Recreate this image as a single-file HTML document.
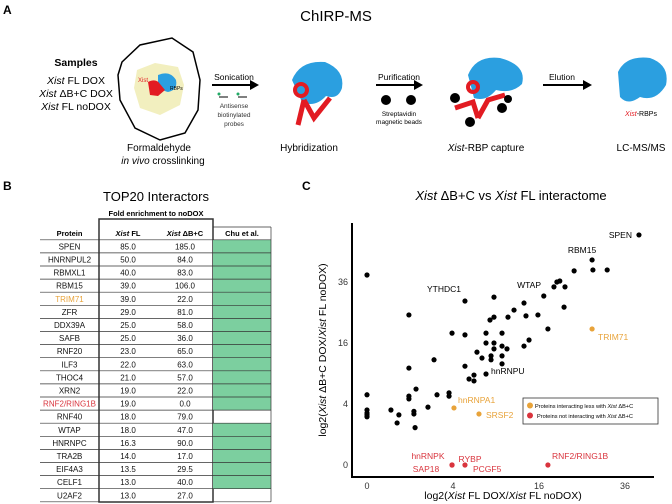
<!DOCTYPE html>
<html><head><meta charset="utf-8"><style>
body{margin:0;background:#fff;}
svg{display:block;font-family:"Liberation Sans",sans-serif;}
</style></head><body>
<svg id="fig" width="672" height="504" viewBox="0 0 672 504">
<g>
<text x="3" y="14" font-size="12" font-weight="bold">A</text>
<text x="336" y="21" font-size="15" text-anchor="middle">ChIRP-MS</text>
<g font-size="10.5" text-anchor="middle">
<text x="76" y="66" font-weight="bold">Samples</text>
<text x="76" y="84"><tspan font-style="italic">Xist</tspan> FL DOX</text>
<text x="76" y="97"><tspan font-style="italic">Xist</tspan> ΔB+C DOX</text>
<text x="76" y="110"><tspan font-style="italic">Xist</tspan> FL noDOX</text>
</g>
<g>
<path d="M122,62 L140,45 L172,38 L193,52 L200,80 L198,110 L185,133 L160,140 L135,128 L120,100 L118,75 Z" fill="#fff" stroke="#000" stroke-width="1.5"/>
<path d="M137,70 L155,63 L178,67 L184,85 L180,105 L160,115 L140,108 L134,88 Z" fill="#f2efbf"/>
<path d="M158,75 Q170,70 176,80 Q178,90 168,92 Q160,90 158,84 Z" fill="#2b9fe0"/>
<path d="M148,82 Q156,78 160,84 L165,90 L158,96 L150,95 Z" fill="#e21b22"/>
<text x="138" y="82" font-size="6" fill="#e21b22">Xist</text>
<text x="170" y="90" font-size="5">RBPs</text>
<text x="159" y="151" font-size="10" text-anchor="middle">Formaldehyde</text>
<text x="163" y="164" font-size="10" text-anchor="middle"><tspan font-style="italic">in vivo</tspan> crosslinking</text>
</g>
<g>
<text x="234" y="80" font-size="8.5" text-anchor="middle">Sonication</text>
<line x1="212" y1="85" x2="252" y2="85" stroke="#000" stroke-width="2"/><path d="M250,80 L259,85 L250,90Z"/>
<text x="234" y="108" font-size="6.5" text-anchor="middle" fill="#333">Antisense</text>
<text x="234" y="117" font-size="6.5" text-anchor="middle" fill="#333">biotinylated</text>
<text x="234" y="126" font-size="6.5" text-anchor="middle" fill="#333">probes</text>
<path d="M219,97 h9 M238,97 h9" stroke="#000"/><circle cx="219" cy="94" r="1.5" fill="#2a6"/><circle cx="238" cy="94" r="1.5" fill="#2a6"/>
</g>
<g>
<path d="M292,80 Q300,60 325,62 Q345,70 342,88 Q338,100 326,96 Q315,108 302,102 Z" fill="#2b9fe0"/>
<path d="M298,125 L304,100 M304,100 L314,118 L330,98" stroke="#e21b22" stroke-width="5" fill="none"/>
<circle cx="301" cy="90" r="6" fill="none" stroke="#e21b22" stroke-width="4"/>
<text x="309" y="151" font-size="10" text-anchor="middle">Hybridization</text>
</g>
<g>
<text x="399" y="80" font-size="8.5" text-anchor="middle">Purification</text>
<line x1="376" y1="85" x2="416" y2="85" stroke="#000" stroke-width="2"/><path d="M414,80 L423,85 L414,90Z"/>
<circle cx="386" cy="100" r="5"/><circle cx="411" cy="100" r="5"/>
<text x="399" y="116" font-size="6.5" text-anchor="middle">Streptavidin</text>
<text x="399" y="124" font-size="6.5" text-anchor="middle">magnetic beads</text>
</g>
<g>
<path d="M468,75 Q476,55 500,58 Q527,65 522,84 Q512,94 496,90 Q486,102 474,98 Z" fill="#2b9fe0"/>
<path d="M455,108 L473,102 L478,118 M478,118 L488,100 L505,95" stroke="#e21b22" stroke-width="5" fill="none"/>
<circle cx="473" cy="87" r="5" fill="none" stroke="#e21b22" stroke-width="4"/>
<circle cx="455" cy="98" r="5"/><circle cx="470" cy="122" r="5"/><circle cx="502" cy="108" r="5"/><circle cx="508" cy="99" r="4"/>
<text x="486" y="151" font-size="10" text-anchor="middle"><tspan font-style="italic">Xist</tspan>-RBP capture</text>
</g>
<g>
<text x="562" y="80" font-size="8.5" text-anchor="middle">Elution</text>
<line x1="543" y1="85" x2="585" y2="85" stroke="#000" stroke-width="2"/><path d="M583,80 L592,85 L583,90Z"/>
<path d="M618,72 Q626,55 650,58 Q670,65 666,85 Q656,102 640,97 Q628,106 620,97 Z" fill="#2b9fe0"/>
<text x="641" y="116" font-size="7" text-anchor="middle"><tspan fill="#e21b22" font-style="italic">Xist</tspan>-RBPs</text>
<text x="641" y="151" font-size="10" text-anchor="middle">LC-MS/MS</text>
</g>
</g>
<g>
<text x="3" y="190" font-size="12" font-weight="bold">B</text>
<text x="156" y="201" font-size="13" text-anchor="middle">TOP20 Interactors</text>
<text x="156" y="216" font-size="7.5" font-weight="bold" text-anchor="middle">Fold enrichment to noDOX</text>
<g id="table"></g>
</g>
<g>
<text x="302" y="190" font-size="12" font-weight="bold">C</text>
<text x="511" y="200" font-size="13" text-anchor="middle"><tspan font-style="italic">Xist</tspan> ΔB+C vs <tspan font-style="italic">Xist</tspan> FL interactome</text>
<g id="scatter"></g>
</g>
</svg>
<script>
const proteins=["SPEN","HNRNPUL2","RBMXL1","RBM15","TRIM71","ZFR","DDX39A","SAFB","RNF20","ILF3","THOC4","XRN2","RNF2/RING1B","RNF40","WTAP","HNRNPC","TRA2B","EIF4A3","CELF1","U2AF2"];
const flValues=["85.0","50.0","40.0","39.0","39.0","29.0","25.0","25.0","23.0","22.0","21.0","19.0","19.0","18.0","18.0","16.3","14.0","13.5","13.0","13.0"];
const dbcValues=["185.0","84.0","83.0","106.0","22.0","81.0","58.0","36.0","65.0","63.0","57.0","22.0","0.0","79.0","47.0","90.0","17.0","29.5","40.0","27.0"];
const chuValues=[1,1,1,1,1,1,1,1,1,1,1,1,1,0,1,1,1,1,1,0];
const nameColors={"TRIM71":"#e8a33a","RNF2/RING1B":"#d9343d"};

const NS="http://www.w3.org/2000/svg";
function mk(tag,attrs,parent){const e=document.createElementNS(NS,tag);for(const k in attrs)e.setAttribute(k,attrs[k]);parent.appendChild(e);return e;}

const tb=document.getElementById('table');
const cols=[40,99,157,213,271];
const top0=227, rh=13.1, head=12.8;
mk('rect',{x:99,y:219,width:114,height:283,fill:'none',stroke:'#333','stroke-width':1.5},tb);
const hd=[["Protein",false],["Xist FL",true],["Xist ΔB+C",true],["Chu et al.",false]];
hd.forEach((h,i)=>{const t=mk('text',{x:(cols[i]+cols[i+1])/2,y:top0+9,'font-size':7.5,'font-weight':'bold','text-anchor':'middle'},tb);
 if(h[1]){const p=h[0].split(' ');const a=mk('tspan',{'font-style':'italic'},t);a.textContent=p[0];const b=mk('tspan',{},t);b.textContent=' '+p[1];}else t.textContent=h[0];
 
 });
proteins.forEach((p,i)=>{
 const y=top0+head+rh*i;
 if(chuValues[i]){const r=mk('rect',{x:213,y:y,width:58,height:rh,fill:'#7ccf9f'},tb);
  
  }
 mk('line',{x1:40,x2:271,y1:y,y2:y,stroke:'#333','stroke-width':0.7},tb);
 const vals=[p,flValues[i],dbcValues[i]];
 vals.forEach((v,j)=>{const t=mk('text',{x:(cols[j]+cols[j+1])/2,y:y+9.6,'font-size':8,'text-anchor':'middle',fill:j==0&&nameColors[p]?nameColors[p]:'#111'},tb);t.textContent=v;
  
  });
});
mk('line',{x1:40,x2:271,y1:top0+head+rh*20,y2:top0+head+rh*20,stroke:'#333','stroke-width':0.7},tb);
mk('line',{x1:271,x2:271,y1:top0,y2:top0+head+rh*20,stroke:'#333','stroke-width':0.7},tb);
mk('line',{x1:213,x2:271,y1:top0,y2:top0,stroke:'#333','stroke-width':0.7},tb);

const blackX=[40.0,27.4,23.2,27.6,31.2,0,18.9,19.5,20.1,21.2,16.9,5.19,8.72,13.33,21.0,0.95,11.69,10.75,8.72,8.18,15.8,13.67,17.7,3.91,5.19,7.66,9.86,7.66,8.72,14.2,13.33,9.86,8.72,10.6,6.54,7.15,8.32,8.32,9.86,9.86,2.43,0.95,5.19,7.66,6.19,5.63,6.19,1.30,0,0.95,0.95,2.65,3.64,3.64,0,0,0,0,0.31,0.55,0.49,1.19,1.19,2.01,1.25];
const blackY=[56.9,45.2,40.5,40.9,40.9,38.8,34.1,36,36.4,34.1,30.7,28.9,30.3,28.2,26.8,24.2,25.8,23.5,23.5,22.6,24.2,23.9,19.9,18.7,18.2,18.7,18.7,16,16,16.8,15.2,15.2,14.5,14.5,13.7,12.3,12.8,11.9,12.8,11.0,11.9,10.1,10.5,8.9,8.7,7.95,7.6,6.2,5.3,5.1,4.7,5.3,5.6,5.1,3.25,2.9,2.7,2.5,3.25,2.7,1.9,3.1,2.8,3.6,1.5];
const orangeNames=["hnRNPA1","SRSF2","TRIM71"];
const orangeX=[4.09,6.78,27.4];
const orangeY=[3.5,2.8,19.9];
const redNames=["hnRNPK","SAP18","PCGF5","RNF2/RING1B"];
const redX=[3.91,3.91,5.19,17.7];
const redY=[0,0,0,0];
const xTicks=[0,4,16,36];
const yTicks=[0,4,16,36];

const sx=v=>367+43*Math.sqrt(v);
const sy=v=>465-30.5*Math.sqrt(v);
const sc=document.getElementById('scatter');
const ax=mk('path',{d:'M352,223 V477 H654',stroke:'#000','stroke-width':2,fill:'none'},sc);


xTicks.forEach(t=>{const e=mk('text',{x:sx(t),y:489,'font-size':9,'text-anchor':'middle',fill:'#333'},sc);e.textContent=t;
 
 });
yTicks.forEach(t=>{const e=mk('text',{x:348,y:sy(t)+3,'font-size':9,'text-anchor':'end',fill:'#333'},sc);e.textContent=t;
 
 });
const xl=mk('text',{x:503,y:499,'font-size':10.5,'text-anchor':'middle'},sc);
xl.innerHTML='log2(<tspan font-style="italic">Xist</tspan> FL DOX/<tspan font-style="italic">Xist</tspan> FL noDOX)';


const yl=mk('text',{x:0,y:0,'font-size':10.5,'text-anchor':'middle',transform:'translate(326,350) rotate(-90)'},sc);
yl.innerHTML='log2(<tspan font-style="italic">Xist</tspan> ΔB+C DOX/<tspan font-style="italic">Xist</tspan> FL noDOX)';



blackX.forEach((x,i)=>{const c=mk('circle',{cx:sx(x),cy:sy(blackY[i]),r:2.6,fill:'#000'},sc);
 
 });
orangeX.forEach((x,i)=>{const c=mk('circle',{cx:sx(x),cy:sy(orangeY[i]),r:2.6,fill:'#e8a33a'},sc);
 
 });
redX.forEach((x,i)=>{const c=mk('circle',{cx:sx(x),cy:sy(redY[i]),r:2.6,fill:'#d9343d'},sc);
 
 });

const labels=[["SPEN",632,238,'end','#000'],["RBM15",582,253,'middle','#000'],["WTAP",541,288,'end','#000'],["YTHDC1",444,292,'middle','#000'],["hnRNPU",491,374,'start','#000'],
["TRIM71",598,340,'start','#e8a33a'],["hnRNPA1",458,403,'start','#e8a33a'],["SRSF2",486,418,'start','#e8a33a'],
["hnRNPK",428,459,'middle','#d9343d'],["RYBP",470,462,'middle','#d9343d'],["SAP18",426,472,'middle','#d9343d'],["PCGF5",473,472,'start','#d9343d'],["RNF2/RING1B",552,459,'start','#d9343d']];
labels.forEach(l=>{const t=mk('text',{x:l[1],y:l[2],'font-size':8.5,'text-anchor':l[3],fill:l[4]},sc);t.textContent=l[0];
 
 });

const lg=mk('g',{},sc);


mk('rect',{x:523,y:398,width:135,height:26,fill:'#fff',stroke:'#333','stroke-width':0.8},lg);
mk('circle',{cx:530,cy:405.5,r:3,fill:'#e8a33a'},lg);
mk('circle',{cx:530,cy:415.5,r:3,fill:'#d9343d'},lg);
const l1=mk('text',{x:535,y:408,'font-size':5.6},lg);l1.innerHTML='Proteins interacting less with <tspan font-style="italic">Xist</tspan> ΔB+C';
const l2=mk('text',{x:537,y:418,'font-size':5.6},lg);l2.innerHTML='Proteins not interacting with <tspan font-style="italic">Xist</tspan> ΔB+C';
</script>
</body></html>
